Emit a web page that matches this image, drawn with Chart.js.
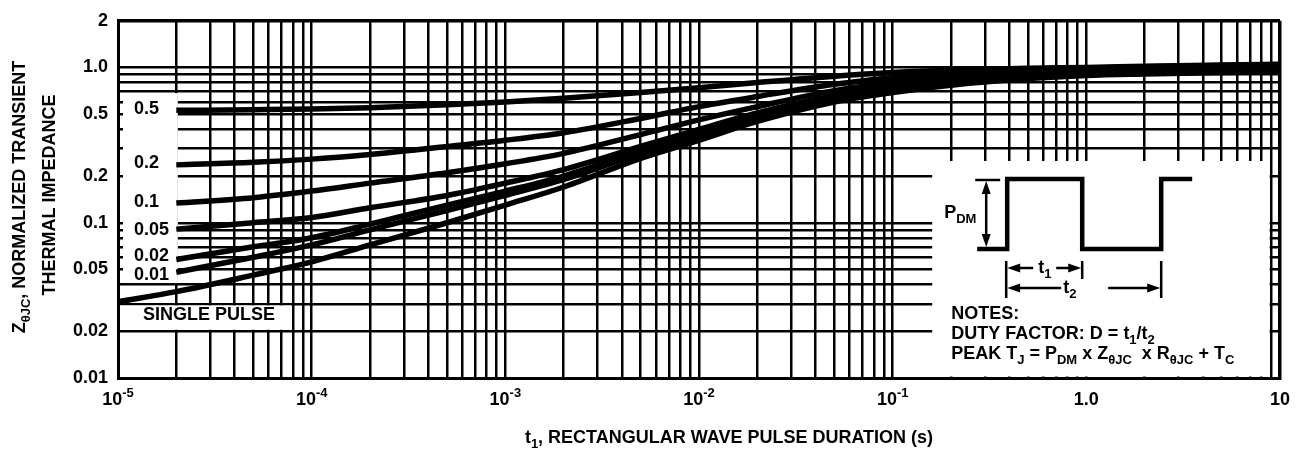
<!DOCTYPE html>
<html>
<head>
<meta charset="utf-8">
<script src="https://cdn.jsdelivr.net/npm/chart.js@4.4.0/dist/chart.umd.min.js"></script>
<style>
  html, body { margin: 0; padding: 0; background: #fff; }
  #wrap { width: 1301px; height: 450px; }
</style>
</head>
<body>
<div id="wrap"><canvas id="zthChart" width="1301" height="450"></canvas></div>
<script>
const pulseTimes = [2e-5, 5e-5, 1e-4, 2e-4, 5e-4, 1e-3, 2e-3, 5e-3, 1e-2, 2e-2, 5e-2, 1e-1, 2e-1, 5e-1, 1, 2, 5, 10];
const singlePulseTimes = [1e-5, 2e-5, 5e-5, 1e-4, 2e-4, 5e-4, 1e-3, 2e-3, 5e-3, 1e-2, 2e-2, 5e-2, 1e-1, 2e-1, 5e-1, 1, 2, 5, 10];

// normalized transient thermal impedance, one array per duty factor
const duty050 = [0.53, 0.535, 0.54, 0.55, 0.575, 0.60, 0.635, 0.69, 0.74, 0.80, 0.88, 0.93, 0.96, 0.99, 1.0, 1.02, 1.04, 1.05];
const duty020 = [0.236, 0.245, 0.257, 0.275, 0.31, 0.34, 0.38, 0.47, 0.56, 0.65, 0.78, 0.86, 0.92, 0.97, 0.99, 1.01, 1.03, 1.04];
const duty010 = [0.134, 0.145, 0.16, 0.18, 0.21, 0.24, 0.28, 0.37, 0.46, 0.56, 0.71, 0.80, 0.87, 0.94, 0.97, 0.99, 1.01, 1.02];
const duty005 = [0.091, 0.10, 0.108, 0.125, 0.15, 0.18, 0.22, 0.31, 0.40, 0.51, 0.66, 0.76, 0.84, 0.91, 0.95, 0.97, 0.99, 1.0];
const duty002 = [0.058, 0.07, 0.08, 0.098, 0.13, 0.16, 0.20, 0.29, 0.37, 0.48, 0.63, 0.73, 0.81, 0.89, 0.93, 0.95, 0.97, 0.98];
const duty001 = [0.048, 0.06, 0.072, 0.09, 0.12, 0.15, 0.19, 0.28, 0.36, 0.47, 0.62, 0.71, 0.79, 0.87, 0.91, 0.93, 0.95, 0.96];
const singlePulse = [0.031, 0.036, 0.046, 0.056, 0.072, 0.10, 0.13, 0.17, 0.26, 0.34, 0.45, 0.60, 0.69, 0.77, 0.85, 0.89, 0.91, 0.93, 0.94];

const dutyLabels = ["0.5", "0.2", "0.1", "0.05", "0.02", "0.01"];

// axis ticks
const xDecades = [1e-5, 1e-4, 1e-3, 1e-2, 1e-1, 1, 10];
const xDecadeBase = ["10", "10", "10", "10", "10", "1.0", "10"];
const xDecadeExp = ["-5", "-4", "-3", "-2", "-1", "", ""];
const yGridValues = [0.01, 0.02, 0.03, 0.04, 0.05, 0.06, 0.07, 0.08, 0.09,
  0.1, 0.2, 0.3, 0.4, 0.5, 0.6, 0.7, 0.8, 0.9, 1, 2];
const yLabelValues = [0.01, 0.02, 0.05, 0.1, 0.2, 0.5, 1, 2];
const yLabelTexts = ["0.01", "0.02", "0.05", "0.1", "0.2", "0.5", "1.0", "2"];

const xGridValues = [];
for (let d = 0; d < 6; d++) {
  for (let m = 1; m <= 9; m++) xGridValues.push(m * Math.pow(10, d - 5));
}
xGridValues.push(10);

const FONT = '"Liberation Sans", Arial, Helvetica, sans-serif';
const BIG = 18, SMALL = 13;

function toPoints(times, values) {
  return times.map((t, i) => ({ x: t, y: values[i] }));
}

function curve(label, times, values) {
  return {
    label: label,
    data: toPoints(times, values),
    borderColor: "#000",
    borderWidth: 5.5,
    pointRadius: 0,
    fill: false,
    cubicInterpolationMode: "monotone",
  };
}

// text made of normal / subscript / superscript pieces
function partFont(kind) {
  return "bold " + (kind === "n" ? BIG : SMALL) + "px " + FONT;
}
function richWidth(ctx, parts) {
  let w = 0;
  parts.forEach(([txt, kind]) => {
    ctx.font = partFont(kind);
    w += ctx.measureText(txt).width;
  });
  return w;
}
function drawRich(ctx, parts, x, y, align) {
  let cx = x;
  if (align === "center") cx = x - richWidth(ctx, parts) / 2;
  ctx.textAlign = "left";
  ctx.textBaseline = "alphabetic";
  parts.forEach(([txt, kind]) => {
    ctx.font = partFont(kind);
    const dy = kind === "s" ? 5 : kind === "p" ? -8 : 0;
    ctx.fillText(txt, cx, y + dy);
    cx += ctx.measureText(txt).width;
  });
}

function arrow(ctx, x1, y1, x2, y2) {
  const ang = Math.atan2(y2 - y1, x2 - x1);
  const L = 13, W = 4.5;
  const c = Math.cos(ang), s = Math.sin(ang);
  ctx.beginPath();
  ctx.moveTo(x1, y1);
  ctx.lineTo(x2 - L * c * 0.8, y2 - L * s * 0.8);
  ctx.stroke();
  ctx.beginPath();
  ctx.moveTo(x2, y2);
  ctx.lineTo(x2 - L * c + W * s, y2 - L * s - W * c);
  ctx.lineTo(x2 - L * c - W * s, y2 - L * s + W * c);
  ctx.closePath();
  ctx.fill();
}

const decorations = {
  id: "decorations",
  beforeDatasetsDraw(chart) {
    const { ctx, chartArea: a, scales: { x, y } } = chart;
    ctx.save();
    ctx.fillStyle = "#fff";
    // label column for duty factors
    const lx1 = a.left + 5, lx2 = x.getPixelForValue(2e-5) + 1.5;
    const ly1 = y.getPixelForValue(0.7) + 1.5, ly2 = y.getPixelForValue(0.04) - 1.5;
    ctx.fillRect(lx1, ly1, lx2 - lx1, ly2 - ly1);
    // single pulse label box
    const sx1 = a.left + 2, sx2 = x.getPixelForValue(8e-5) - 1.5;
    const sy1 = y.getPixelForValue(0.03) + 1.5, sy2 = y.getPixelForValue(0.02) - 1.5;
    ctx.fillRect(sx1, sy1, sx2 - sx1, sy2 - sy1);
    // notes inset
    const nx1 = x.getPixelForValue(0.16), nx2 = x.getPixelForValue(9) - 1.5;
    const ny1 = y.getPixelForValue(0.25), ny2 = a.bottom - 1.5;
    ctx.fillRect(nx1, ny1, nx2 - nx1, ny2 - ny1);
    ctx.restore();
  },
  afterDraw(chart) {
    const { ctx, chartArea: a, scales: { x, y } } = chart;
    ctx.save();
    ctx.fillStyle = "#000";
    ctx.strokeStyle = "#000";

    // duty factor labels
    const labelBase = [114, 168, 207, 235, 261, 280];
    dutyLabels.forEach((t, i) => drawRich(ctx, [[t, "n"]], 134, labelBase[i], "left"));
    drawRich(ctx, [["SINGLE PULSE", "n"]], 143, 320, "left");

    // x tick labels with exponents
    xDecades.forEach((v, i) => {
      const px = x.getPixelForValue(v);
      const parts = [[xDecadeBase[i], "n"]];
      if (xDecadeExp[i]) parts.push([xDecadeExp[i], "p"]);
      drawRich(ctx, parts, px, 405, "center");
    });

    // axis titles
    drawRich(ctx, [["t", "n"], ["1", "s"], [", RECTANGULAR WAVE PULSE DURATION (s)", "n"]],
      729, 443, "center");
    ctx.save();
    ctx.translate(25, 197);
    ctx.rotate(-Math.PI / 2);
    drawRich(ctx, [["Z", "n"], ["θJC", "s"], [", NORMALIZED TRANSIENT", "n"]], 0, 0, "center");
    ctx.restore();
    ctx.save();
    ctx.translate(55, 195);
    ctx.rotate(-Math.PI / 2);
    drawRich(ctx, [["THERMAL IMPEDANCE", "n"]], 0, 0, "center");
    ctx.restore();

    // inset: pulse train and notes
    const bx = x.getPixelForValue(0.16), by = y.getPixelForValue(0.25);
    ctx.lineWidth = 4.5;
    ctx.lineJoin = "miter";
    ctx.beginPath();
    ctx.moveTo(bx + 45, by + 88);
    ctx.lineTo(bx + 75, by + 88);
    ctx.lineTo(bx + 75, by + 18);
    ctx.lineTo(bx + 150, by + 18);
    ctx.lineTo(bx + 150, by + 88);
    ctx.lineTo(bx + 229, by + 88);
    ctx.lineTo(bx + 229, by + 18);
    ctx.lineTo(bx + 260, by + 18);
    ctx.stroke();

    ctx.lineWidth = 2.5;
    ctx.beginPath();
    ctx.moveTo(bx + 43, by + 19);
    ctx.lineTo(bx + 68, by + 19);
    ctx.stroke();
    arrow(ctx, bx + 54, by + 54, bx + 54, by + 20);
    arrow(ctx, bx + 54, by + 54, bx + 54, by + 86);
    drawRich(ctx, [["P", "n"], ["DM", "s"]], bx + 12, by + 57, "left");

    ctx.beginPath();
    ctx.moveTo(bx + 74, by + 100); ctx.lineTo(bx + 74, by + 137);
    ctx.moveTo(bx + 150, by + 100); ctx.lineTo(bx + 150, by + 118);
    ctx.moveTo(bx + 229, by + 100); ctx.lineTo(bx + 229, by + 137);
    ctx.stroke();
    arrow(ctx, bx + 101, by + 107, bx + 75, by + 107);
    arrow(ctx, bx + 124, by + 107, bx + 149, by + 107);
    drawRich(ctx, [["t", "n"], ["1", "s"]], bx + 106, by + 112, "left");
    arrow(ctx, bx + 129, by + 127, bx + 75, by + 127);
    arrow(ctx, bx + 176, by + 127, bx + 228, by + 127);
    drawRich(ctx, [["t", "n"], ["2", "s"]], bx + 131, by + 132, "left");

    drawRich(ctx, [["NOTES:", "n"]], bx + 19, by + 158, "left");
    drawRich(ctx, [["DUTY FACTOR: D = t", "n"], ["1", "s"], ["/t", "n"], ["2", "s"]], bx + 19, by + 178, "left");
    drawRich(ctx, [["PEAK T", "n"], ["J", "s"], [" = P", "n"], ["DM", "s"], [" x Z", "n"], ["θJC", "s"],
      ["  x R", "n"], ["θJC", "s"], [" + T", "n"], ["C", "s"]], bx + 19, by + 198, "left");
    ctx.restore();
  },
};

const edgeWidth = (edges) => (c) => (c.tick && edges.includes(c.tick.value) ? 3.5 : 2.5);

new Chart(document.getElementById("zthChart"), {
  type: "line",
  data: {
    datasets: [
      curve("0.5", pulseTimes, duty050),
      curve("0.2", pulseTimes, duty020),
      curve("0.1", pulseTimes, duty010),
      curve("0.05", pulseTimes, duty005),
      curve("0.02", pulseTimes, duty002),
      curve("0.01", pulseTimes, duty001),
      curve("SINGLE PULSE", singlePulseTimes, singlePulse),
    ],
  },
  options: {
    responsive: false,
    animation: false,
    devicePixelRatio: 1,
    layout: { padding: { left: 0, right: 21, top: 18, bottom: 0 } },
    scales: {
      x: {
        type: "logarithmic",
        min: 1e-5,
        max: 10,
        afterBuildTicks: (s) => { s.ticks = xGridValues.map((v) => ({ value: v })); },
        afterFit: (s) => { s.height = 72; },
        ticks: { display: false },
        grid: { color: "#000", lineWidth: edgeWidth([10]), drawTicks: false },
        border: { color: "#000", width: 3 },
      },
      y: {
        type: "logarithmic",
        min: 0.01,
        max: 2,
        afterBuildTicks: (s) => { s.ticks = yGridValues.map((v) => ({ value: v })); },
        afterFit: (s) => { s.width = 118; },
        ticks: {
          color: "#000",
          autoSkip: false,
          padding: 10,
          font: { family: FONT, size: BIG, weight: "bold" },
          callback: (value) => {
            const i = yLabelValues.findIndex((v) => Math.abs(v - value) / v < 1e-6);
            return i >= 0 ? yLabelTexts[i] : "";
          },
        },
        grid: { color: "#000", lineWidth: edgeWidth([2]), drawTicks: false },
        border: { color: "#000", width: 3 },
      },
    },
    plugins: {
      legend: { display: false },
      tooltip: { enabled: false },
    },
  },
  plugins: [decorations],
});
</script>
</body>
</html>
